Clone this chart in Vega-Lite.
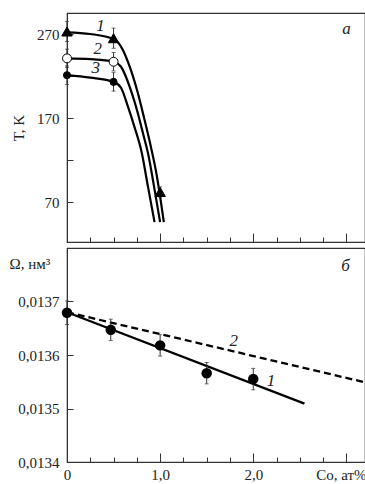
{
  "$schema": "https://vega.github.io/schema/vega-lite/v6.json",
  "padding": {"left": 8, "top": 12, "right": 0, "bottom": 0},
  "background": "white",
  "spacing": 3,
  "config": {
    "font": "Liberation Serif",
    "view": {"stroke": "#333", "strokeWidth": 1.2},
    "axis": {
      "domainColor": "#333", "tickColor": "#333", "labelColor": "#222", "titleColor": "#222",
      "labelFontSize": 15, "titleFontSize": 15, "titleFontWeight": "normal", "grid": false,
      "labelFont": "Liberation Serif", "titleFont": "Liberation Serif", "labelFlush": false, "labelOverlap": false
    }
  },
  "vconcat": [
    {
      "width": 298, "height": 229,
      "resolve": {"axis": {"x": "independent"}},
      "layer": [
        {
          "data": {"values": [
            {"c": "1", "x": 0, "T": 272}, {"c": "1", "x": 0.25, "T": 270}, {"c": "1", "x": 0.5, "T": 264},
            {"c": "1", "x": 0.58, "T": 255}, {"c": "1", "x": 0.68, "T": 229}, {"c": "1", "x": 0.76, "T": 200},
            {"c": "1", "x": 0.83, "T": 169}, {"c": "1", "x": 0.9, "T": 136}, {"c": "1", "x": 0.96, "T": 104},
            {"c": "1", "x": 1.04, "T": 46},
            {"c": "2", "x": 0, "T": 241}, {"c": "2", "x": 0.25, "T": 240}, {"c": "2", "x": 0.5, "T": 237},
            {"c": "2", "x": 0.58, "T": 231}, {"c": "2", "x": 0.68, "T": 205}, {"c": "2", "x": 0.76, "T": 176},
            {"c": "2", "x": 0.82, "T": 150}, {"c": "2", "x": 0.87, "T": 128}, {"c": "2", "x": 0.94, "T": 85},
            {"c": "2", "x": 1.0, "T": 46},
            {"c": "3", "x": 0, "T": 221}, {"c": "3", "x": 0.25, "T": 218}, {"c": "3", "x": 0.5, "T": 213},
            {"c": "3", "x": 0.58, "T": 206}, {"c": "3", "x": 0.65, "T": 185}, {"c": "3", "x": 0.72, "T": 161},
            {"c": "3", "x": 0.8, "T": 130}, {"c": "3", "x": 0.87, "T": 88}, {"c": "3", "x": 0.94, "T": 46}
          ]},
          "mark": {"type": "line", "color": "black", "strokeWidth": 2.2, "interpolate": "monotone"},
          "encoding": {
            "x": {"field": "x", "type": "quantitative", "scale": {"domain": [0, 3.2], "nice": false},
              "axis": {"orient": "bottom", "values": [0, 0.25, 0.5, 0.75, 1, 1.25, 1.5, 1.75, 2, 2.25, 2.5, 2.75, 3], "tickSize": -5, "labels": false, "title": null}},
            "y": {"field": "T", "type": "quantitative", "scale": {"domain": [22.4, 295], "nice": false, "zero": false},
              "axis": {"values": [70, 120, 170, 220, 270], "labelExpr": "datum.value == 120 || datum.value == 220 ? '' : datum.label", "tickSize": -6, "labelPadding": 14, "title": "T, K", "titlePadding": 10}},
            "detail": {"field": "c"}
          }
        },
        {
          "data": {"values": [
            {"c": "1", "x": 0, "T": 273, "lo": 261, "hi": 285}, {"c": "1", "x": 0.5, "T": 265, "lo": 253, "hi": 277},
            {"c": "1", "x": 1.0, "T": 82, "lo": 76, "hi": 88},
            {"c": "2", "x": 0, "T": 241, "lo": 230, "hi": 252}, {"c": "2", "x": 0.5, "T": 237, "lo": 226, "hi": 248},
            {"c": "3", "x": 0, "T": 221, "lo": 210, "hi": 232}, {"c": "3", "x": 0.5, "T": 213, "lo": 202, "hi": 224}
          ]},
          "mark": {"type": "errorbar", "ticks": {"size": 4, "color": "#333"}, "rule": {"color": "#333", "strokeWidth": 1}},
          "encoding": {
            "x": {"field": "x", "type": "quantitative", "axis": null},
            "y": {"field": "lo", "type": "quantitative", "title": "T, K"},
            "y2": {"field": "hi"}
          }
        },
        {
          "data": {"values": [
            {"c": "1", "x": 0, "T": 273}, {"c": "1", "x": 0.5, "T": 265}, {"c": "1", "x": 1.0, "T": 82},
            {"c": "2", "x": 0, "T": 241}, {"c": "2", "x": 0.5, "T": 237},
            {"c": "3", "x": 0, "T": 221}, {"c": "3", "x": 0.5, "T": 213}
          ]},
          "mark": {"type": "point", "filled": true, "stroke": "black", "strokeWidth": 1, "opacity": 1},
          "encoding": {
            "x": {"field": "x", "type": "quantitative",
              "axis": {"orient": "bottom", "values": [0, 1, 2, 3], "tickSize": -9, "labels": false, "title": null, "domain": false}},
            "y": {"field": "T", "type": "quantitative", "title": "T, K"},
            "fill": {"field": "c", "type": "nominal", "scale": {"domain": ["1", "2", "3"], "range": ["black", "white", "black"]}, "legend": null},
            "shape": {"field": "c", "type": "nominal", "scale": {"domain": ["1", "2", "3"], "range": ["triangle-up", "circle", "circle"]}, "legend": null},
            "size": {"field": "c", "type": "nominal", "scale": {"domain": ["1", "2", "3"], "range": [110, 50, 55]}, "legend": null}
          }
        },
        {
          "data": {"values": [
            {"t": "1", "x": 0.36, "T": 279}, {"t": "2", "x": 0.33, "T": 252}, {"t": "3", "x": 0.31, "T": 229},
            {"t": "a", "x": 3.0, "T": 276}
          ]},
          "mark": {"type": "text", "fontStyle": "italic", "fontSize": 17, "color": "#222", "baseline": "middle"},
          "encoding": {
            "x": {"field": "x", "type": "quantitative", "axis": null},
            "y": {"field": "T", "type": "quantitative", "title": "T, K"},
            "text": {"field": "t"}
          }
        }
      ]
    },
    {
      "width": 298, "height": 214,
      "resolve": {"axis": {"x": "independent"}},
      "layer": [
        {
          "data": {"values": [
            {"s": "1", "x": 0, "v": 0.01368}, {"s": "1", "x": 2.55, "v": 0.013509}
          ]},
          "mark": {"type": "line", "color": "black", "strokeWidth": 2.3},
          "encoding": {
            "x": {"field": "x", "type": "quantitative", "scale": {"domain": [0, 3.2], "nice": false},
              "axis": {"orient": "bottom", "values": [0, 0.25, 0.5, 0.75, 1, 1.25, 1.5, 1.75, 2, 2.25, 2.5, 2.75, 3], "tickSize": -5, "labels": false, "title": null}},
            "y": {"field": "v", "type": "quantitative", "scale": {"domain": [0.0134, 0.0138], "nice": false, "zero": false},
              "axis": {"values": [0.0134, 0.0135, 0.0136, 0.0137], "labelExpr": "replace(format(datum.value, '.4f'), '.', ',')", "tickSize": -6, "labelPadding": 14,
                "title": "Ω, нм³", "titleAngle": 0, "titleAlign": "left", "titleBaseline": "alphabetic", "titleX": -58, "titleY": 20}}
          }
        },
        {
          "data": {"values": [
            {"s": "2", "x": 0, "v": 0.01368}, {"s": "2", "x": 3.2, "v": 0.013549}
          ]},
          "mark": {"type": "line", "color": "black", "strokeWidth": 2.3, "strokeDash": [7, 4]},
          "encoding": {
            "x": {"field": "x", "type": "quantitative",
              "axis": {"orient": "bottom", "values": [0, 1, 2, 3], "tickSize": -9, "domain": false, "labelPadding": 14,
                "labelExpr": "datum.value == 0 ? '0' : datum.value == 3 ? '' : replace(format(datum.value, '.1f'), '.', ',')",
                "title": "Co, ат%", "titleX": 299, "titleY": 5, "titleAlign": "right", "titleBaseline": "top", "titleAnchor": "end"}},
            "y": {"field": "v", "type": "quantitative", "title": "Ω, нм³"}
          }
        },
        {
          "data": {"values": [
            {"x": 0, "v": 0.013679, "lo": 0.013657, "hi": 0.013701},
            {"x": 0.47, "v": 0.013647, "lo": 0.013627, "hi": 0.013667},
            {"x": 1.0, "v": 0.013618, "lo": 0.013598, "hi": 0.013638},
            {"x": 1.5, "v": 0.013566, "lo": 0.013546, "hi": 0.013586},
            {"x": 2.0, "v": 0.013555, "lo": 0.013535, "hi": 0.013575}
          ]},
          "mark": {"type": "errorbar", "ticks": {"size": 4, "color": "#333"}, "rule": {"color": "#333", "strokeWidth": 1}},
          "encoding": {
            "x": {"field": "x", "type": "quantitative", "axis": null},
            "y": {"field": "lo", "type": "quantitative", "title": "Ω, нм³"},
            "y2": {"field": "hi"}
          }
        },
        {
          "data": {"values": [
            {"x": 0, "v": 0.013679}, {"x": 0.47, "v": 0.013647}, {"x": 1.0, "v": 0.013618},
            {"x": 1.5, "v": 0.013566}, {"x": 2.0, "v": 0.013555}
          ]},
          "mark": {"type": "circle", "color": "black", "size": 110, "opacity": 1},
          "encoding": {
            "x": {"field": "x", "type": "quantitative", "axis": null},
            "y": {"field": "v", "type": "quantitative", "title": "Ω, нм³"}
          }
        },
        {
          "data": {"values": [
            {"t": "2", "x": 1.79, "v": 0.013626}, {"t": "1", "x": 2.19, "v": 0.013552},
            {"t": "б", "x": 2.99, "v": 0.013766}
          ]},
          "mark": {"type": "text", "fontStyle": "italic", "fontSize": 17, "color": "#222", "baseline": "middle"},
          "encoding": {
            "x": {"field": "x", "type": "quantitative", "axis": null},
            "y": {"field": "v", "type": "quantitative", "title": "Ω, нм³"},
            "text": {"field": "t"}
          }
        }
      ]
    }
  ]
}
